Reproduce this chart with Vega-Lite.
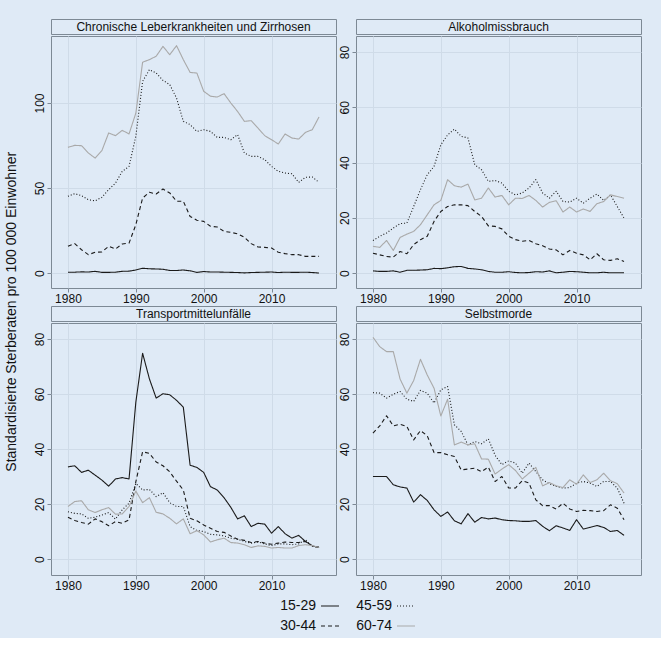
{
  "$schema": "https://vega.github.io/schema/vega-lite/v6.json",
  "background": "#dfeaf6",
  "padding": {"left": 4, "top": 18, "right": 20, "bottom": 5},
  "title": {
    "text": "Standardisierte Sterberaten pro 100 000 Einwohner",
    "orient": "left",
    "anchor": "middle",
    "fontSize": 14,
    "fontWeight": "normal",
    "color": "#111111",
    "offset": 14,
    "dx": 14
  },
  "datasets": {
    "leber": [
      {"year": 1980, "15-29": 0.5, "30-44": 15.7, "45-59": 45.1, "60-74": 73.9},
      {"year": 1981, "15-29": 0.5, "30-44": 17.3, "45-59": 46.7, "60-74": 75.1},
      {"year": 1982, "15-29": 0.7, "30-44": 13.7, "45-59": 45.5, "60-74": 74.9},
      {"year": 1983, "15-29": 0.6, "30-44": 10.8, "45-59": 43.1, "60-74": 70.6},
      {"year": 1984, "15-29": 1.0, "30-44": 12.2, "45-59": 42.5, "60-74": 67.6},
      {"year": 1985, "15-29": 0.4, "30-44": 12.4, "45-59": 44.5, "60-74": 72.0},
      {"year": 1986, "15-29": 0.4, "30-44": 15.7, "45-59": 49.0, "60-74": 82.4},
      {"year": 1987, "15-29": 0.5, "30-44": 14.1, "45-59": 52.9, "60-74": 80.8},
      {"year": 1988, "15-29": 1.0, "30-44": 17.1, "45-59": 59.8, "60-74": 83.9},
      {"year": 1989, "15-29": 1.1, "30-44": 17.6, "45-59": 62.7, "60-74": 81.8},
      {"year": 1990, "15-29": 1.8, "30-44": 28.4, "45-59": 80.4, "60-74": 94.0},
      {"year": 1991, "15-29": 2.8, "30-44": 44.1, "45-59": 112.7, "60-74": 124.0},
      {"year": 1992, "15-29": 2.5, "30-44": 47.5, "45-59": 119.6, "60-74": 125.5},
      {"year": 1993, "15-29": 2.4, "30-44": 46.5, "45-59": 117.6, "60-74": 127.5},
      {"year": 1994, "15-29": 2.2, "30-44": 49.4, "45-59": 113.3, "60-74": 133.3},
      {"year": 1995, "15-29": 1.5, "30-44": 47.1, "45-59": 110.8, "60-74": 128.4},
      {"year": 1996, "15-29": 1.5, "30-44": 42.2, "45-59": 102.9, "60-74": 133.7},
      {"year": 1997, "15-29": 1.8, "30-44": 42.2, "45-59": 89.2, "60-74": 125.5},
      {"year": 1998, "15-29": 1.3, "30-44": 33.3, "45-59": 87.3, "60-74": 118.0},
      {"year": 1999, "15-29": 0.4, "30-44": 31.0, "45-59": 83.3, "60-74": 117.6},
      {"year": 2000, "15-29": 0.9, "30-44": 30.4, "45-59": 84.3, "60-74": 106.9},
      {"year": 2001, "15-29": 0.6, "30-44": 27.5, "45-59": 83.3, "60-74": 104.0},
      {"year": 2002, "15-29": 0.6, "30-44": 27.1, "45-59": 79.8, "60-74": 103.5},
      {"year": 2003, "15-29": 0.5, "30-44": 24.5, "45-59": 79.8, "60-74": 105.5},
      {"year": 2004, "15-29": 0.4, "30-44": 23.9, "45-59": 78.4, "60-74": 100.0},
      {"year": 2005, "15-29": 0.3, "30-44": 23.1, "45-59": 81.4, "60-74": 95.0},
      {"year": 2006, "15-29": 0.1, "30-44": 21.0, "45-59": 70.6, "60-74": 89.2},
      {"year": 2007, "15-29": 0.3, "30-44": 17.3, "45-59": 68.6, "60-74": 89.6},
      {"year": 2008, "15-29": 0.4, "30-44": 15.3, "45-59": 68.6, "60-74": 85.3},
      {"year": 2009, "15-29": 0.5, "30-44": 15.1, "45-59": 66.7, "60-74": 80.8},
      {"year": 2010, "15-29": 0.6, "30-44": 14.7, "45-59": 62.7, "60-74": 78.4},
      {"year": 2011, "15-29": 0.3, "30-44": 12.2, "45-59": 59.8, "60-74": 75.9},
      {"year": 2012, "15-29": 0.5, "30-44": 11.4, "45-59": 58.8, "60-74": 81.8},
      {"year": 2013, "15-29": 0.4, "30-44": 10.8, "45-59": 58.4, "60-74": 79.4},
      {"year": 2014, "15-29": 0.4, "30-44": 10.8, "45-59": 53.3, "60-74": 78.8},
      {"year": 2015, "15-29": 0.5, "30-44": 9.8, "45-59": 56.3, "60-74": 82.7},
      {"year": 2016, "15-29": 0.3, "30-44": 9.8, "45-59": 56.5, "60-74": 84.3},
      {"year": 2017, "15-29": 0.0, "30-44": 9.8, "45-59": 53.3, "60-74": 91.8}
    ],
    "alkohol": [
      {"year": 1980, "15-29": 0.8, "30-44": 7.2, "45-59": 11.8, "60-74": 9.7},
      {"year": 1981, "15-29": 0.6, "30-44": 6.6, "45-59": 13.3, "60-74": 9.3},
      {"year": 1982, "15-29": 0.6, "30-44": 6.0, "45-59": 14.5, "60-74": 11.8},
      {"year": 1983, "15-29": 0.8, "30-44": 5.8, "45-59": 16.3, "60-74": 8.2},
      {"year": 1984, "15-29": 0.3, "30-44": 7.8, "45-59": 17.9, "60-74": 12.9},
      {"year": 1985, "15-29": 1.0, "30-44": 7.0, "45-59": 18.1, "60-74": 14.1},
      {"year": 1986, "15-29": 1.0, "30-44": 10.3, "45-59": 24.1, "60-74": 15.1},
      {"year": 1987, "15-29": 1.1, "30-44": 12.1, "45-59": 30.2, "60-74": 17.5},
      {"year": 1988, "15-29": 1.2, "30-44": 13.3, "45-59": 35.6, "60-74": 21.1},
      {"year": 1989, "15-29": 1.7, "30-44": 18.7, "45-59": 38.6, "60-74": 24.7},
      {"year": 1990, "15-29": 1.6, "30-44": 22.3, "45-59": 46.4, "60-74": 26.3},
      {"year": 1991, "15-29": 1.9, "30-44": 24.1, "45-59": 50.0, "60-74": 33.8},
      {"year": 1992, "15-29": 2.3, "30-44": 24.7, "45-59": 52.1, "60-74": 31.6},
      {"year": 1993, "15-29": 2.4, "30-44": 24.7, "45-59": 49.5, "60-74": 31.1},
      {"year": 1994, "15-29": 1.7, "30-44": 24.4, "45-59": 48.9, "60-74": 32.2},
      {"year": 1995, "15-29": 1.5, "30-44": 22.3, "45-59": 39.2, "60-74": 26.5},
      {"year": 1996, "15-29": 1.2, "30-44": 20.5, "45-59": 37.4, "60-74": 27.1},
      {"year": 1997, "15-29": 0.6, "30-44": 17.1, "45-59": 33.2, "60-74": 30.8},
      {"year": 1998, "15-29": 0.3, "30-44": 16.9, "45-59": 33.5, "60-74": 27.5},
      {"year": 1999, "15-29": 0.3, "30-44": 16.0, "45-59": 32.6, "60-74": 28.1},
      {"year": 2000, "15-29": 0.5, "30-44": 13.3, "45-59": 29.6, "60-74": 24.7},
      {"year": 2001, "15-29": 0.2, "30-44": 12.1, "45-59": 28.3, "60-74": 27.1},
      {"year": 2002, "15-29": 0.1, "30-44": 11.5, "45-59": 29.0, "60-74": 27.0},
      {"year": 2003, "15-29": 0.2, "30-44": 11.8, "45-59": 30.8, "60-74": 28.1},
      {"year": 2004, "15-29": 0.5, "30-44": 10.6, "45-59": 33.8, "60-74": 26.3},
      {"year": 2005, "15-29": 0.4, "30-44": 9.9, "45-59": 29.0, "60-74": 23.9},
      {"year": 2006, "15-29": 0.8, "30-44": 8.7, "45-59": 27.1, "60-74": 25.6},
      {"year": 2007, "15-29": 0.1, "30-44": 8.4, "45-59": 29.6, "60-74": 26.2},
      {"year": 2008, "15-29": 0.3, "30-44": 6.6, "45-59": 25.9, "60-74": 22.1},
      {"year": 2009, "15-29": 0.6, "30-44": 8.2, "45-59": 25.7, "60-74": 23.9},
      {"year": 2010, "15-29": 0.5, "30-44": 7.2, "45-59": 27.1, "60-74": 22.1},
      {"year": 2011, "15-29": 0.3, "30-44": 6.6, "45-59": 25.3, "60-74": 23.2},
      {"year": 2012, "15-29": 0.1, "30-44": 4.8, "45-59": 27.1, "60-74": 22.3},
      {"year": 2013, "15-29": 0.1, "30-44": 7.0, "45-59": 28.6, "60-74": 25.1},
      {"year": 2014, "15-29": 0.3, "30-44": 4.8, "45-59": 26.3, "60-74": 25.9},
      {"year": 2015, "15-29": 0.1, "30-44": 4.6, "45-59": 28.3, "60-74": 28.3},
      {"year": 2016, "15-29": 0.1, "30-44": 5.2, "45-59": 24.1, "60-74": 27.7},
      {"year": 2017, "15-29": 0.1, "30-44": 4.2, "45-59": 19.9, "60-74": 27.1}
    ],
    "transport": [
      {"year": 1980, "15-29": 33.5, "30-44": 15.2, "45-59": 17.2, "60-74": 19.1},
      {"year": 1981, "15-29": 33.9, "30-44": 14.0, "45-59": 16.6, "60-74": 20.9},
      {"year": 1982, "15-29": 31.5, "30-44": 13.3, "45-59": 16.4, "60-74": 21.2},
      {"year": 1983, "15-29": 32.3, "30-44": 12.7, "45-59": 14.8, "60-74": 17.9},
      {"year": 1984, "15-29": 30.5, "30-44": 14.6, "45-59": 15.2, "60-74": 16.9},
      {"year": 1985, "15-29": 28.7, "30-44": 13.6, "45-59": 16.0, "60-74": 17.9},
      {"year": 1986, "15-29": 26.5, "30-44": 12.1, "45-59": 16.9, "60-74": 18.7},
      {"year": 1987, "15-29": 29.1, "30-44": 13.6, "45-59": 14.5, "60-74": 16.3},
      {"year": 1988, "15-29": 29.6, "30-44": 13.0, "45-59": 17.9, "60-74": 16.4},
      {"year": 1989, "15-29": 29.1, "30-44": 14.2, "45-59": 20.3, "60-74": 19.1},
      {"year": 1990, "15-29": 57.0, "30-44": 28.1, "45-59": 27.5, "60-74": 24.7},
      {"year": 1991, "15-29": 74.8, "30-44": 39.0, "45-59": 25.1, "60-74": 20.5},
      {"year": 1992, "15-29": 65.5, "30-44": 38.4, "45-59": 25.3, "60-74": 22.3},
      {"year": 1993, "15-29": 58.5, "30-44": 35.3, "45-59": 22.7, "60-74": 17.0},
      {"year": 1994, "15-29": 60.1, "30-44": 33.9, "45-59": 24.1, "60-74": 16.4},
      {"year": 1995, "15-29": 59.7, "30-44": 31.7, "45-59": 20.5, "60-74": 14.8},
      {"year": 1996, "15-29": 57.7, "30-44": 28.3, "45-59": 19.1, "60-74": 12.8},
      {"year": 1997, "15-29": 55.2, "30-44": 25.1, "45-59": 19.1, "60-74": 14.6},
      {"year": 1998, "15-29": 34.1, "30-44": 14.8, "45-59": 11.8, "60-74": 9.2},
      {"year": 1999, "15-29": 33.3, "30-44": 13.9, "45-59": 10.4, "60-74": 10.3},
      {"year": 2000, "15-29": 31.5, "30-44": 12.4, "45-59": 10.0, "60-74": 8.8},
      {"year": 2001, "15-29": 26.3, "30-44": 11.2, "45-59": 9.0, "60-74": 6.2},
      {"year": 2002, "15-29": 25.1, "30-44": 10.0, "45-59": 8.8, "60-74": 7.0},
      {"year": 2003, "15-29": 22.3, "30-44": 9.7, "45-59": 8.4, "60-74": 7.6},
      {"year": 2004, "15-29": 18.8, "30-44": 8.4, "45-59": 7.6, "60-74": 6.0},
      {"year": 2005, "15-29": 14.6, "30-44": 7.2, "45-59": 7.2, "60-74": 5.8},
      {"year": 2006, "15-29": 15.7, "30-44": 6.8, "45-59": 6.4, "60-74": 5.2},
      {"year": 2007, "15-29": 11.8, "30-44": 6.0, "45-59": 5.8, "60-74": 4.2},
      {"year": 2008, "15-29": 13.0, "30-44": 6.4, "45-59": 6.2, "60-74": 4.8},
      {"year": 2009, "15-29": 12.7, "30-44": 5.8, "45-59": 5.5, "60-74": 4.6},
      {"year": 2010, "15-29": 9.4, "30-44": 5.4, "45-59": 4.9, "60-74": 4.0},
      {"year": 2011, "15-29": 11.8, "30-44": 5.8, "45-59": 5.5, "60-74": 4.2},
      {"year": 2012, "15-29": 9.2, "30-44": 6.2, "45-59": 5.5, "60-74": 4.0},
      {"year": 2013, "15-29": 7.6, "30-44": 6.0, "45-59": 5.2, "60-74": 4.0},
      {"year": 2014, "15-29": 8.6, "30-44": 6.0, "45-59": 5.5, "60-74": 4.9},
      {"year": 2015, "15-29": 6.4, "30-44": 6.4, "45-59": 7.0, "60-74": 5.2},
      {"year": 2016, "15-29": 4.8, "30-44": 4.8, "45-59": 4.6, "60-74": 4.9},
      {"year": 2017, "15-29": 4.2, "30-44": 4.3, "45-59": 4.2, "60-74": 4.2}
    ],
    "suizid": [
      {"year": 1980, "15-29": 30.0, "30-44": 45.8, "45-59": 60.5, "60-74": 80.6},
      {"year": 1981, "15-29": 30.0, "30-44": 48.4, "45-59": 60.3, "60-74": 77.2},
      {"year": 1982, "15-29": 30.0, "30-44": 52.1, "45-59": 58.5, "60-74": 75.4},
      {"year": 1983, "15-29": 27.0, "30-44": 48.4, "45-59": 59.9, "60-74": 75.4},
      {"year": 1984, "15-29": 26.2, "30-44": 49.0, "45-59": 60.9, "60-74": 65.4},
      {"year": 1985, "15-29": 25.8, "30-44": 48.2, "45-59": 58.1, "60-74": 60.3},
      {"year": 1986, "15-29": 20.7, "30-44": 43.3, "45-59": 57.3, "60-74": 64.9},
      {"year": 1987, "15-29": 23.4, "30-44": 46.7, "45-59": 61.3, "60-74": 72.6},
      {"year": 1988, "15-29": 21.3, "30-44": 44.8, "45-59": 60.3, "60-74": 66.9},
      {"year": 1989, "15-29": 17.9, "30-44": 38.7, "45-59": 56.7, "60-74": 62.1},
      {"year": 1990, "15-29": 15.5, "30-44": 38.7, "45-59": 61.5, "60-74": 52.0},
      {"year": 1991, "15-29": 17.1, "30-44": 37.9, "45-59": 62.7, "60-74": 58.1},
      {"year": 1992, "15-29": 13.9, "30-44": 37.3, "45-59": 48.8, "60-74": 41.5},
      {"year": 1993, "15-29": 12.8, "30-44": 32.4, "45-59": 46.4, "60-74": 42.5},
      {"year": 1994, "15-29": 16.5, "30-44": 32.7, "45-59": 41.5, "60-74": 41.5},
      {"year": 1995, "15-29": 13.4, "30-44": 33.0, "45-59": 42.7, "60-74": 41.9},
      {"year": 1996, "15-29": 15.1, "30-44": 31.8, "45-59": 41.9, "60-74": 36.4},
      {"year": 1997, "15-29": 14.6, "30-44": 33.4, "45-59": 43.7, "60-74": 36.3},
      {"year": 1998, "15-29": 14.9, "30-44": 28.2, "45-59": 37.7, "60-74": 30.9},
      {"year": 1999, "15-29": 14.3, "30-44": 30.0, "45-59": 34.3, "60-74": 32.7},
      {"year": 2000, "15-29": 14.0, "30-44": 25.8, "45-59": 35.7, "60-74": 34.3},
      {"year": 2001, "15-29": 13.9, "30-44": 25.8, "45-59": 34.9, "60-74": 32.2},
      {"year": 2002, "15-29": 13.7, "30-44": 28.5, "45-59": 31.2, "60-74": 29.1},
      {"year": 2003, "15-29": 13.7, "30-44": 27.6, "45-59": 34.9, "60-74": 31.2},
      {"year": 2004, "15-29": 14.0, "30-44": 21.5, "45-59": 31.8, "60-74": 33.3},
      {"year": 2005, "15-29": 11.9, "30-44": 19.4, "45-59": 28.8, "60-74": 26.6},
      {"year": 2006, "15-29": 10.3, "30-44": 19.4, "45-59": 27.4, "60-74": 27.8},
      {"year": 2007, "15-29": 12.1, "30-44": 18.2, "45-59": 26.4, "60-74": 26.6},
      {"year": 2008, "15-29": 11.3, "30-44": 20.3, "45-59": 25.8, "60-74": 26.0},
      {"year": 2009, "15-29": 10.4, "30-44": 18.2, "45-59": 26.0, "60-74": 28.8},
      {"year": 2010, "15-29": 14.3, "30-44": 17.3, "45-59": 27.6, "60-74": 27.2},
      {"year": 2011, "15-29": 10.9, "30-44": 17.7, "45-59": 28.2, "60-74": 30.6},
      {"year": 2012, "15-29": 11.5, "30-44": 17.6, "45-59": 27.6, "60-74": 27.8},
      {"year": 2013, "15-29": 12.2, "30-44": 17.3, "45-59": 26.4, "60-74": 28.8},
      {"year": 2014, "15-29": 11.5, "30-44": 17.6, "45-59": 28.2, "60-74": 31.2},
      {"year": 2015, "15-29": 10.0, "30-44": 19.7, "45-59": 28.2, "60-74": 28.5},
      {"year": 2016, "15-29": 10.4, "30-44": 18.5, "45-59": 25.8, "60-74": 27.4},
      {"year": 2017, "15-29": 8.6, "30-44": 14.3, "45-59": 20.3, "60-74": 24.0}
    ]
  },
  "vconcat": [
    {
      "hconcat": [
        {
          "spacing": 0,
          "vconcat": [
            {
              "width": 285, "height": 15,
              "view": {"stroke": "#7d8995", "strokeWidth": 1},
              "data": {"values": [{"t": "Chronische Leberkrankheiten und Zirrhosen"}]},
              "mark": {"type": "text", "fontSize": 12, "color": "#111111"},
              "encoding": {"text": {"field": "t"}}
            },
            {
              "width": 285, "height": 252,
              "data": {"name": "leber"},
              "transform": [{"fold": ["15-29", "30-44", "45-59", "60-74"], "as": ["age", "rate"]}],
              "mark": {"type": "line"},
              "encoding": {
                "x": {"field": "year", "type": "quantitative", "scale": {"domain": [1977.5, 2019.5], "nice": false}, "axis": {"values": [1980, 1990, 2000, 2010], "format": "d", "title": null}},
                "y": {"field": "rate", "type": "quantitative", "scale": {"domain": [-8.8, 139.4], "nice": false, "zero": false}, "axis": {"values": [0, 50, 100], "title": null}},
                "color": {"field": "age", "type": "nominal", "title": null, "scale": {"domain": ["15-29", "45-59", "30-44", "60-74"], "range": ["#1a1a1a", "#1a1a1a", "#1a1a1a", "#a9a9a9"]}},
                "strokeDash": {"field": "age", "type": "nominal", "title": null, "scale": {"domain": ["15-29", "45-59", "30-44", "60-74"], "range": [[1, 0], [1, 2], [4, 3], [1, 0]]}},
                "strokeWidth": {"field": "age", "type": "nominal", "title": null, "scale": {"domain": ["15-29", "45-59", "30-44", "60-74"], "range": [1.1, 1.1, 1.1, 2]}}
              }
            }
          ]
        },
        {
          "spacing": 0,
          "vconcat": [
            {
              "width": 285, "height": 15,
              "view": {"stroke": "#7d8995", "strokeWidth": 1},
              "data": {"values": [{"t": "Alkoholmissbrauch"}]},
              "mark": {"type": "text", "fontSize": 12, "color": "#111111"},
              "encoding": {"text": {"field": "t"}}
            },
            {
              "width": 285, "height": 252,
              "data": {"name": "alkohol"},
              "transform": [{"fold": ["15-29", "30-44", "45-59", "60-74"], "as": ["age", "rate"]}],
              "mark": {"type": "line"},
              "encoding": {
                "x": {"field": "year", "type": "quantitative", "scale": {"domain": [1977.5, 2019.5], "nice": false}, "axis": {"values": [1980, 1990, 2000, 2010], "format": "d", "title": null}},
                "y": {"field": "rate", "type": "quantitative", "scale": {"domain": [-5.4, 85.8], "nice": false, "zero": false}, "axis": {"values": [0, 20, 40, 60, 80], "title": null}},
                "color": {"field": "age", "type": "nominal", "title": null, "scale": {"domain": ["15-29", "45-59", "30-44", "60-74"], "range": ["#1a1a1a", "#1a1a1a", "#1a1a1a", "#a9a9a9"]}},
                "strokeDash": {"field": "age", "type": "nominal", "title": null, "scale": {"domain": ["15-29", "45-59", "30-44", "60-74"], "range": [[1, 0], [1, 2], [4, 3], [1, 0]]}},
                "strokeWidth": {"field": "age", "type": "nominal", "title": null, "scale": {"domain": ["15-29", "45-59", "30-44", "60-74"], "range": [1.1, 1.1, 1.1, 2]}}
              }
            }
          ]
        }
      ]
    },
    {
      "hconcat": [
        {
          "spacing": 0,
          "vconcat": [
            {
              "width": 285, "height": 15,
              "view": {"stroke": "#7d8995", "strokeWidth": 1},
              "data": {"values": [{"t": "Transportmittelunfälle"}]},
              "mark": {"type": "text", "fontSize": 12, "color": "#111111"},
              "encoding": {"text": {"field": "t"}}
            },
            {
              "width": 285, "height": 252,
              "data": {"name": "transport"},
              "transform": [{"fold": ["15-29", "30-44", "45-59", "60-74"], "as": ["age", "rate"]}],
              "mark": {"type": "line"},
              "encoding": {
                "x": {"field": "year", "type": "quantitative", "scale": {"domain": [1977.5, 2019.5], "nice": false}, "axis": {"values": [1980, 1990, 2000, 2010], "format": "d", "title": null}},
                "y": {"field": "rate", "type": "quantitative", "scale": {"domain": [-5.8, 85.8], "nice": false, "zero": false}, "axis": {"values": [0, 20, 40, 60, 80], "title": null}},
                "color": {"field": "age", "type": "nominal", "title": null, "scale": {"domain": ["15-29", "45-59", "30-44", "60-74"], "range": ["#1a1a1a", "#1a1a1a", "#1a1a1a", "#a9a9a9"]}},
                "strokeDash": {"field": "age", "type": "nominal", "title": null, "scale": {"domain": ["15-29", "45-59", "30-44", "60-74"], "range": [[1, 0], [1, 2], [4, 3], [1, 0]]}},
                "strokeWidth": {"field": "age", "type": "nominal", "title": null, "scale": {"domain": ["15-29", "45-59", "30-44", "60-74"], "range": [1.1, 1.1, 1.1, 2]}}
              }
            }
          ]
        },
        {
          "spacing": 0,
          "vconcat": [
            {
              "width": 285, "height": 15,
              "view": {"stroke": "#7d8995", "strokeWidth": 1},
              "data": {"values": [{"t": "Selbstmorde"}]},
              "mark": {"type": "text", "fontSize": 12, "color": "#111111"},
              "encoding": {"text": {"field": "t"}}
            },
            {
              "width": 285, "height": 252,
              "data": {"name": "suizid"},
              "transform": [{"fold": ["15-29", "30-44", "45-59", "60-74"], "as": ["age", "rate"]}],
              "mark": {"type": "line"},
              "encoding": {
                "x": {"field": "year", "type": "quantitative", "scale": {"domain": [1977.5, 2019.5], "nice": false}, "axis": {"values": [1980, 1990, 2000, 2010], "format": "d", "title": null}},
                "y": {"field": "rate", "type": "quantitative", "scale": {"domain": [-5.8, 85.8], "nice": false, "zero": false}, "axis": {"values": [0, 20, 40, 60, 80], "title": null}},
                "color": {"field": "age", "type": "nominal", "title": null, "scale": {"domain": ["15-29", "45-59", "30-44", "60-74"], "range": ["#1a1a1a", "#1a1a1a", "#1a1a1a", "#a9a9a9"]}},
                "strokeDash": {"field": "age", "type": "nominal", "title": null, "scale": {"domain": ["15-29", "45-59", "30-44", "60-74"], "range": [[1, 0], [1, 2], [4, 3], [1, 0]]}},
                "strokeWidth": {"field": "age", "type": "nominal", "title": null, "scale": {"domain": ["15-29", "45-59", "30-44", "60-74"], "range": [1.1, 1.1, 1.1, 2]}}
              }
            }
          ]
        }
      ]
    }
  ],
  "resolve": {"scale": {"color": "shared", "strokeDash": "shared", "strokeWidth": "shared"}},
  "config": {
    "font": "Liberation Sans",
    "concat": {"spacing": 0},
    "view": {"stroke": "#7d8995", "strokeWidth": 1},
    "line": {"strokeJoin": "round"},
    "axis": {
      "domain": false,
      "grid": true,
      "gridColor": "#cfdbe8",
      "gridWidth": 1,
      "tickColor": "#7d8995",
      "tickSize": 4,
      "labelFontSize": 12,
      "labelColor": "#111111",
      "labelPadding": 1
    },
    "axisY": {"labelAngle": 270, "labelAlign": "center", "labelBaseline": "bottom"},
    "scale": {"zero": false},
    "legend": {
      "orient": "none",
      "legendX": 269,
      "legendY": 577,
      "columns": 2,
      "direction": "horizontal",
      "symbolType": "stroke",
      "symbolSize": 324,
      "labelFontSize": 14,
      "labelColor": "#111111",
      "labelAlign": "right",
      "labelOffset": -24,
      "columnPadding": 16,
      "rowPadding": 3
    }
  }
}
